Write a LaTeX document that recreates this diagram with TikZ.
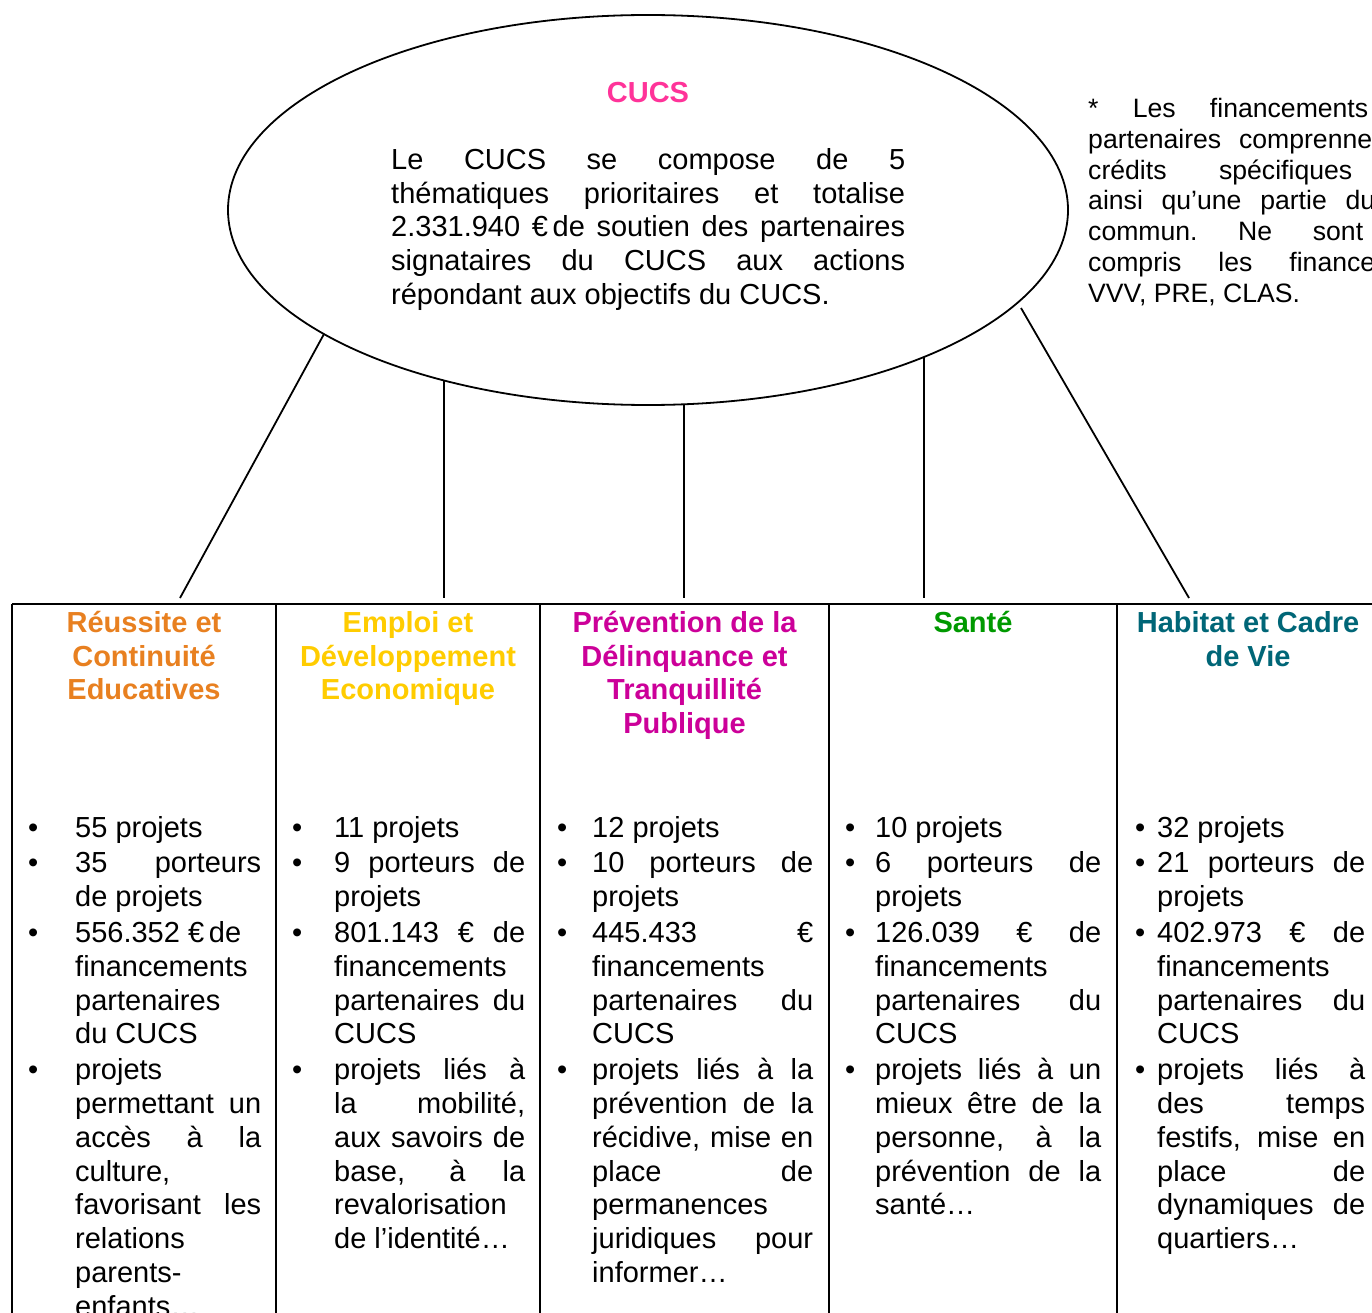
\documentclass[tikz,border=0pt]{standalone}
\usepackage{fontspec}
\setmainfont{Liberation Sans}
\usetikzlibrary{shapes.geometric}
\definecolor{orangeC}{RGB}{232,128,32}
\definecolor{yellowC}{RGB}{255,204,0}
\definecolor{magentaC}{RGB}{204,0,153}
\definecolor{greenC}{RGB}{0,153,0}
\definecolor{tealC}{RGB}{0,102,119}
\definecolor{pinkC}{RGB}{255,51,153}
\newdimen\bdist
\newcommand\jl[1]{\hbox to \hsize{#1}}
\newcommand\lft[1]{\hbox{#1}}
\newcommand\ctr[1]{\hbox to \hsize{\hfil#1\hfil}}
\newcommand\bu{\llap{\makebox[0pt]{•}\hskip\bdist}}
\newcommand\isep{\vskip2pt}
\hbadness=10000
\tikzset{
  body/.style={anchor=base west, inner sep=0pt, font=\fontsize{29}{33.8}\selectfont},
  head/.style={anchor=base, inner sep=0pt, font=\fontsize{29}{33.7}\selectfont\bfseries},
  note/.style={anchor=base west, inner sep=0pt, font=\fontsize{26.6}{30.8}\selectfont},
  tbl/.style={line width=2pt},
  conn/.style={line width=1.8pt}
}
\begin{document}
\begin{tikzpicture}[x=1pt,y=-1pt]
\useasboundingbox (0,0) rectangle (1372,1313);
\clip (0,0) rectangle (1372,1313);

% central ellipse
\node[draw, ellipse, line width=1.8pt, minimum width=840pt, minimum height=390pt, inner sep=0pt] (cucs) at (648,210) {};
\node[head, text=pinkC] (title) at (648,102.5) {CUCS};
\node[body] (intro) at (391,169.5) {\vtop{\hsize=514pt\baselineskip=33.75pt
  \jl{Le CUCS se compose de 5}
  \jl{thématiques prioritaires et totalise}
  \jl{2.331.940 €\,de soutien des partenaires}
  \jl{signataires du CUCS aux actions}
  \lft{répondant aux objectifs du CUCS.}}};

% note
\node[note] (notetext) at (1088,117.5) {\vtop{\baselineskip=30.8pt
  \hbox to 280pt{*\hfil\relax Les\hfil\relax financements}
  \hbox to 284pt{partenaires\hfil\relax comprenne}
  \hbox to 264pt{crédits\hfil\relax spécifiques}
  \hbox to 287pt{ainsi\hfil\relax qu’une\hfil\relax partie\hfil\relax du}
  \hbox to 275pt{commun.\hfil\relax Ne\hfil\relax sont}
  \hbox to 287pt{compris\hfil\relax les\hfil\relax finance}
  \hbox{VVV, PRE, CLAS.}}};

% table
\coordinate (tl) at (12,604);
\coordinate (tr) at (1380,604);
\draw[tbl] (tl) -- (tr);
\foreach \xx in {12,276,540,829,1117,1380}{
  \draw[tbl] (\xx,604) -- (\xx,1330);
}

% connector start points (on / near the ellipse) and end points
\coordinate (s1) at (324,334);
\coordinate (s2) at (444,380.5);
\coordinate (s3) at (684,404.3);
\coordinate (s4) at (924,357);
\coordinate (s5) at (1021,308);
\coordinate (e1) at (180,598);
\coordinate (e2) at (444,598);
\coordinate (e3) at (684,598);
\coordinate (e4) at (924,598);
\coordinate (e5) at (1189,598);
\draw[conn] (s1) -- (e1);
\draw[conn] (s2) -- (e2);
\draw[conn] (s3) -- (e3);
\draw[conn] (s4) -- (e4);
\draw[conn] (s5) -- (e5);

% headers
\node[head, text=orangeC] (h1) at (144,632.5) {\vtop{\hsize=260pt
  \ctr{Réussite et}\ctr{Continuité}\ctr{Educatives}}};
\node[head, text=yellowC] (h2) at (408,632.5) {\vtop{\hsize=260pt
  \ctr{Emploi et}\ctr{Développement}\ctr{Economique}}};
\node[head, text=magentaC] (h3) at (684.5,632.5) {\vtop{\hsize=285pt
  \ctr{Prévention de la}\ctr{Délinquance et}\ctr{Tranquillité}\ctr{Publique}}};
\node[head, text=greenC] (h4) at (973,632.5) {\vtop{\hsize=285pt
  \ctr{Santé}}};
\node[head, text=tealC] (h5) at (1248,632.5) {\vtop{\hsize=260pt
  \ctr{Habitat et Cadre}\ctr{de Vie}}};

% column 1
\node[body] (c1) at (75,837) {\bdist=42pt\vtop{\hsize=186pt\baselineskip=33.8pt
  \lft{\bu 55 projets}\isep
  \jl{\bu 35 porteurs}
  \lft{de projets}\isep
  \lft{\bu 556.352 €\,de}
  \lft{financements}
  \lft{partenaires}
  \lft{du CUCS}\isep
  \lft{\bu projets}
  \jl{permettant un}
  \jl{accès à la}
  \lft{culture,}
  \jl{favorisant les}
  \lft{relations}
  \lft{parents-}
  \lft{enfants…}}};

% column 2
\node[body] (c2) at (334,837) {\bdist=37pt\vtop{\hsize=191pt\baselineskip=33.8pt
  \lft{\bu 11 projets}\isep
  \jl{\bu 9 porteurs de}
  \lft{projets}\isep
  \jl{\bu 801.143 € de}
  \lft{financements}
  \jl{partenaires du}
  \lft{CUCS}\isep
  \jl{\bu projets liés à}
  \jl{la mobilité,}
  \jl{aux savoirs de}
  \jl{base, à la}
  \lft{revalorisation}
  \lft{de l’identité…}}};

% column 3
\node[body] (c3) at (592,837) {\bdist=30pt\vtop{\hsize=221pt\baselineskip=33.8pt
  \lft{\bu 12 projets}\isep
  \jl{\bu 10 porteurs de}
  \lft{projets}\isep
  \jl{\bu 445.433 €}
  \lft{financements}
  \jl{partenaires du}
  \lft{CUCS}\isep
  \jl{\bu projets liés à la}
  \jl{prévention de la}
  \jl{récidive, mise en}
  \jl{place de}
  \lft{permanences}
  \jl{juridiques pour}
  \lft{informer…}}};

% column 4
\node[body] (c4) at (875,837) {\bdist=25pt\vtop{\hsize=226pt\baselineskip=33.8pt
  \lft{\bu 10 projets}\isep
  \jl{\bu 6 porteurs de}
  \lft{projets}\isep
  \jl{\bu 126.039 € de}
  \lft{financements}
  \jl{partenaires du}
  \lft{CUCS}\isep
  \jl{\bu projets liés à un}
  \jl{mieux être de la}
  \jl{personne, à la}
  \jl{prévention de la}
  \lft{santé…}}};

% column 5
\node[body] (c5) at (1157,837) {\bdist=17pt\vtop{\hsize=208pt\baselineskip=33.8pt
  \lft{\bu 32 projets}\isep
  \jl{\bu 21 porteurs de}
  \lft{projets}\isep
  \jl{\bu 402.973 € de}
  \lft{financements}
  \jl{partenaires du}
  \lft{CUCS}\isep
  \jl{\bu projets liés à}
  \jl{des temps}
  \jl{festifs, mise en}
  \jl{place de}
  \jl{dynamiques de}
  \lft{quartiers…}}};
\end{tikzpicture}
\end{document}
